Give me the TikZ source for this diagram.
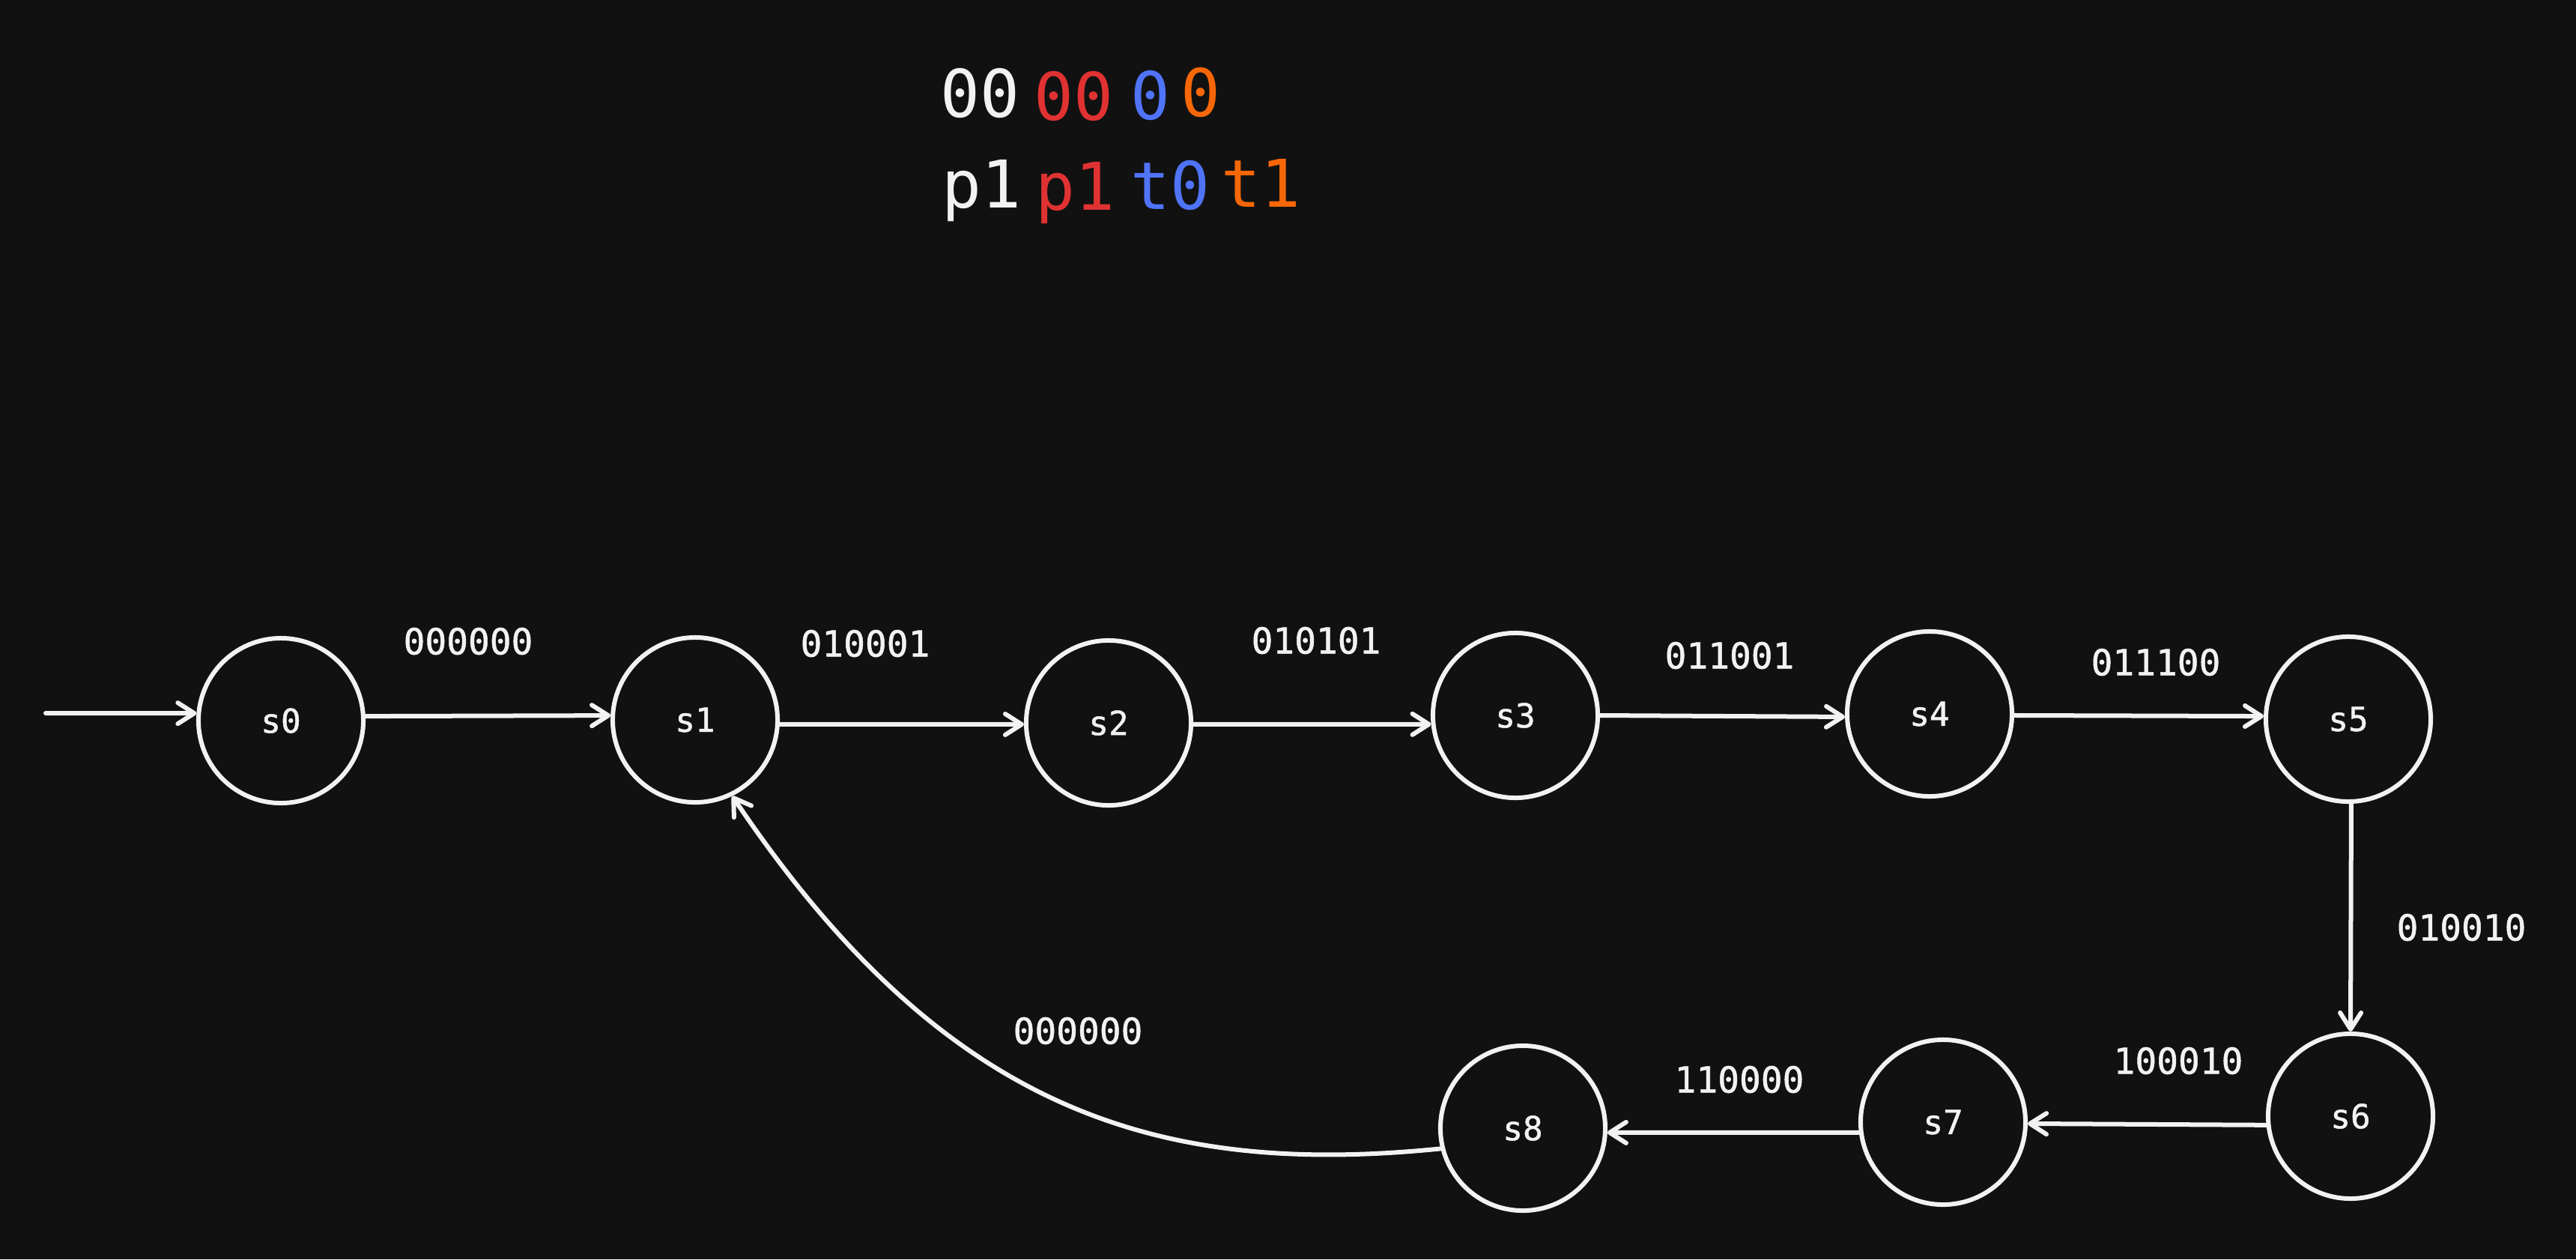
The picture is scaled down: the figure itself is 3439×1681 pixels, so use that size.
\documentclass[tikz,border=0pt]{standalone}
\usepackage{fontspec}
\setmonofont{DejaVu Sans Mono}
\newfontfamily\medmono[FakeBold=1.1]{DejaVu Sans Mono}
\usetikzlibrary{arrows.meta}
\definecolor{bg}{HTML}{111111}
\definecolor{fg}{HTML}{F2F2F2}
\definecolor{lred}{HTML}{E03232}
\definecolor{lblue}{HTML}{4F74F8}
\definecolor{lorange}{HTML}{F76707}
\begin{document}
\begin{tikzpicture}[x=0.01cm,y=-0.01cm,
  state/.style={circle,draw=fg,line width=0.06cm,minimum size=2.2cm,inner sep=0pt,
    text=fg,font=\medmono\fontsize{12.6pt}{15pt}\selectfont},
  arr/.style={draw=fg,line width=0.06cm,line cap=round,
    -{Straight Barb[length=0.22cm,width=0.28cm,round]}},
  elabel/.style={text=fg,inner sep=0pt,font=\medmono\fontsize{13.6pt}{16pt}\selectfont},
  leg/.style={anchor=base,inner sep=0pt,font=\ttfamily\fontsize{25pt}{30pt}\selectfont}]
\fill[bg] (0,0) rectangle (3439,1681);
\useasboundingbox (0,0) rectangle (3439,1681);

% legend
\node[leg,text=fg]      (lg1) at (1308,156) {00};
\node[leg,text=lred]    (lg2) at (1433,160) {00};
\node[leg,text=lblue]   (lg3) at (1536,159) {0};
\node[leg,text=lorange] (lg4) at (1603,155) {0};
\node[leg,text=fg]      (lg5) at (1310,277) {p1};
\node[leg,text=lred]    (lg6) at (1435,280) {p1};
\node[leg,text=lblue]   (lg7) at (1562,279) {t0};
\node[leg,text=lorange] (lg8) at (1683,276) {t1};

% states
\node[state] (s0) at (375,962) {s0};
\node[state] (s1) at (928,961) {s1};
\node[state] (s2) at (1480,965) {s2};
\node[state] (s3) at (2023,955) {s3};
\node[state] (s4) at (2576,953) {s4};
\node[state] (s5) at (3135,960) {s5};
\node[state] (s6) at (3138,1490) {s6};
\node[state] (s7) at (2594,1498) {s7};
\node[state] (s8) at (2033,1506) {s8};

\coordinate (init) at (61,952);

% edges
\draw[arr] (init) -- (s0.175);
\draw[arr] (s0.3) -- (s1.177);
\draw[arr] (s1.-3) -- (s2.-179);
\draw[arr] (s2.-1) -- (s3.-174);
\draw[arr] (s3.0) -- (s4.-178.5);
\draw[arr] (s4.-1.5) -- (s5.178);
\draw[arr] (s5.-88) -- (s6.90);
\draw[arr] (s6.-174.4) -- (s7.-1.5);
\draw[arr] (s7.-173) -- (s8.-3);
\draw[arr] (s8.-166) .. controls (1541,1572) and (1259,1481) .. (s1.-64);

% edge labels
\node[elabel] (e01) at (625,856) {000000};
\node[elabel] (e12) at (1155,859) {010001};
\node[elabel] (e23) at (1757,855) {010101};
\node[elabel] (e34) at (2309,875) {011001};
\node[elabel] (e45) at (2878,884) {011100};
\node[elabel] (e56) at (3286,1238) {010010};
\node[elabel] (e67) at (2908,1416) {100010};
\node[elabel] (e78) at (2322,1441) {110000};
\node[elabel] (e81) at (1439,1376) {000000};
\end{tikzpicture}
\end{document}
